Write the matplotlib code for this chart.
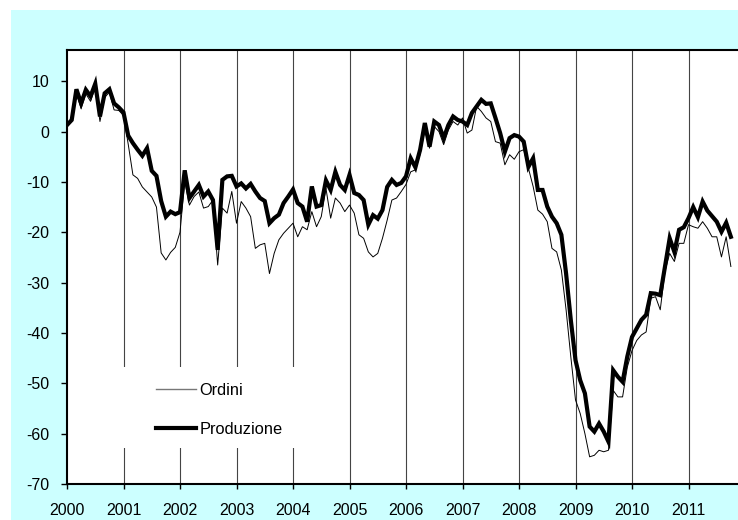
import numpy as np
import matplotlib
matplotlib.use("Agg")
import matplotlib.pyplot as plt
from matplotlib.patches import Rectangle
from matplotlib.lines import Line2D

plt.rcParams['font.family'] = ['Liberation Sans', 'DejaVu Sans']
plt.rcParams['axes.unicode_minus'] = False

years = ['2000', '2001', '2002', '2003', '2004', '2005', '2006', '2007', '2008', '2009', '2010', '2011']

produzione_2000 = [1.3, 2.3, 8.4, 5.6, 8.3, 7.0, 9.5, 3.0, 7.6, 8.4, 5.6, 4.8]
produzione_2001 = [3.8, -0.8, -2.3, -3.6, -4.8, -3.3, -7.8, -8.8, -13.8, -16.9, -15.9, -16.4]
produzione_2002 = [-16.0, -7.7, -13.2, -11.9, -10.6, -12.9, -11.9, -13.6, -23.5, -9.6, -8.9, -8.8]
produzione_2003 = [-10.9, -10.3, -11.3, -10.4, -11.9, -13.2, -13.8, -18.2, -17.2, -16.5, -14.2, -12.9]
produzione_2004 = [-11.5, -14.2, -14.9, -17.9, -10.9, -14.9, -14.6, -9.7, -11.6, -8.0, -10.6, -11.6]
produzione_2005 = [-8.6, -12.2, -12.6, -13.6, -18.5, -16.6, -17.3, -15.6, -11.0, -9.6, -10.6, -10.2]
produzione_2006 = [-8.9, -5.3, -7.1, -3.6, 1.7, -3.0, 2.0, 1.3, -1.3, 1.3, 3.0, 2.3]
produzione_2007 = [2.0, 1.3, 3.7, 5.0, 6.3, 5.5, 5.6, 2.7, -0.3, -4.0, -1.3, -0.7]
produzione_2008 = [-1.0, -2.0, -7.0, -5.3, -11.6, -11.6, -14.9, -16.9, -18.2, -20.5, -28.2, -37.4]
produzione_2009 = [-45.4, -49.4, -52.0, -58.6, -59.6, -58.0, -59.6, -61.6, -47.4, -48.7, -49.7, -44.7]
produzione_2010 = [-40.8, -39.1, -37.4, -36.4, -32.1, -32.2, -32.5, -26.8, -21.2, -23.9, -19.5, -19.0]
produzione_2011 = [-17.2, -15.0, -17.0, -13.9, -15.7, -16.8, -17.9, -19.9, -18.1, -20.9]

ordini_2000 = [1.5, 2.0, 7.5, 4.6, 7.5, 6.0, 8.8, 2.0, 6.8, 7.8, 4.3, 4.2]
ordini_2001 = [3.2, -2.5, -8.6, -9.3, -11.0, -12.0, -13.0, -15.0, -24.1, -25.5, -24.0, -23.0]
ordini_2002 = [-20.0, -9.9, -14.6, -12.9, -12.0, -15.2, -14.9, -13.6, -26.5, -15.2, -16.2, -11.9]
ordini_2003 = [-18.2, -13.9, -15.2, -16.9, -23.2, -22.5, -22.2, -28.2, -24.2, -21.5, -20.2, -19.2]
ordini_2004 = [-18.2, -20.9, -18.9, -19.5, -15.9, -18.9, -16.9, -11.3, -17.2, -13.2, -14.2, -15.9]
ordini_2005 = [-14.6, -16.2, -20.5, -21.2, -23.9, -24.9, -24.2, -21.2, -17.6, -13.6, -13.2, -11.9]
ordini_2006 = [-10.5, -8.0, -7.6, -4.5, 0.3, -3.3, 1.0, 0.0, -2.6, 0.3, 2.0, 1.3]
ordini_2007 = [2.7, -0.3, 0.3, 5.0, 4.0, 2.7, 2.0, -2.0, -2.3, -6.6, -4.6, -5.5]
ordini_2008 = [-4.0, -3.6, -7.3, -10.9, -15.6, -16.4, -17.9, -23.2, -23.9, -27.5, -35.4, -44.7]
ordini_2009 = [-53.3, -56.0, -60.0, -64.6, -64.3, -63.3, -63.6, -63.3, -51.4, -52.7, -52.7, -46.8]
ordini_2010 = [-43.5, -41.5, -40.4, -39.8, -33.1, -32.8, -35.4, -27.8, -24.2, -25.8, -22.2, -22.2]
ordini_2011 = [-18.5, -18.9, -19.2, -17.9, -19.2, -20.9, -20.9, -24.9, -20.9, -26.8]

produzione = np.array(produzione_2000 + produzione_2001 + produzione_2002 + produzione_2003 +
                      produzione_2004 + produzione_2005 + produzione_2006 + produzione_2007 +
                      produzione_2008 + produzione_2009 + produzione_2010 + produzione_2011)
ordini = np.array(ordini_2000 + ordini_2001 + ordini_2002 + ordini_2003 +
                  ordini_2004 + ordini_2005 + ordini_2006 + ordini_2007 +
                  ordini_2008 + ordini_2009 + ordini_2010 + ordini_2011)
months = np.arange(len(produzione))

W, H = 738, 520
fig = plt.figure(figsize=(W / 100, H / 100), dpi=100)
fig.patch.set_facecolor('white')
fig.patches.append(Rectangle((11 / W, 0), 1, (H - 10) / H, transform=fig.transFigure,
                             facecolor='#CCFFFF', edgecolor='none', zorder=-10))

ax_left, ax_right, ax_top, ax_bottom = 67, 738, 50, 484
ax = fig.add_axes([ax_left / W, (H - ax_bottom) / H, (ax_right - ax_left) / W,
                   (ax_bottom - ax_top) / H])
ax.set_zorder(1)
ax.set_facecolor('white')

px_per_month = 56.5 / 12
ax.set_xlim(0, (ax_right - ax_left) / px_per_month)
ax.set_ylim(-70, 16.2)

year_ticks = np.arange(len(years)) * 12
for xt in year_ticks[1:]:
    ax.axvline(xt, color='#444444', lw=0.8, zorder=1)

# legend background box (masks the year lines)
ax.add_patch(Rectangle((0.067, 0.083), 0.3025, 0.1866, transform=ax.transAxes,
                       facecolor='white', edgecolor='none', zorder=1.5))

ax.plot(months, ordini, color='black', lw=0.7, zorder=3, label='Ordini')
ax.plot(months, produzione, color='black', lw=3.0, zorder=4, label='Produzione',
        solid_joinstyle='miter')

ax.set_xticks(year_ticks)
ax.set_xticklabels(years)
ax.set_yticks(np.arange(-70, 11, 10))
ax.tick_params(axis='x', direction='out', length=3.5, width=1, pad=10, labelsize=11.5)
ax.tick_params(axis='y', direction='out', length=4.5, width=1, pad=8, labelsize=11.5)

for s in ['left', 'bottom', 'top']:
    ax.spines[s].set_linewidth(1.5)
    ax.spines[s].set_color('black')
ax.spines['right'].set_visible(False)

handles = [Line2D([], [], color='#777777', lw=1.0),
           Line2D([], [], color='black', lw=3.0)]
leg = ax.legend(handles, ['Ordini', 'Produzione'], loc='upper left',
                bbox_to_anchor=((156 - ax_left) / (ax_right - ax_left), (ax_bottom - 383) / (ax_bottom - ax_top)),
                frameon=False, fontsize=11.8, handlelength=2.45, handletextpad=0.2,
                labelspacing=1.45, borderpad=0, borderaxespad=0)
leg.set_zorder(5)

fig.savefig('out.png', dpi=100, facecolor=fig.get_facecolor())
